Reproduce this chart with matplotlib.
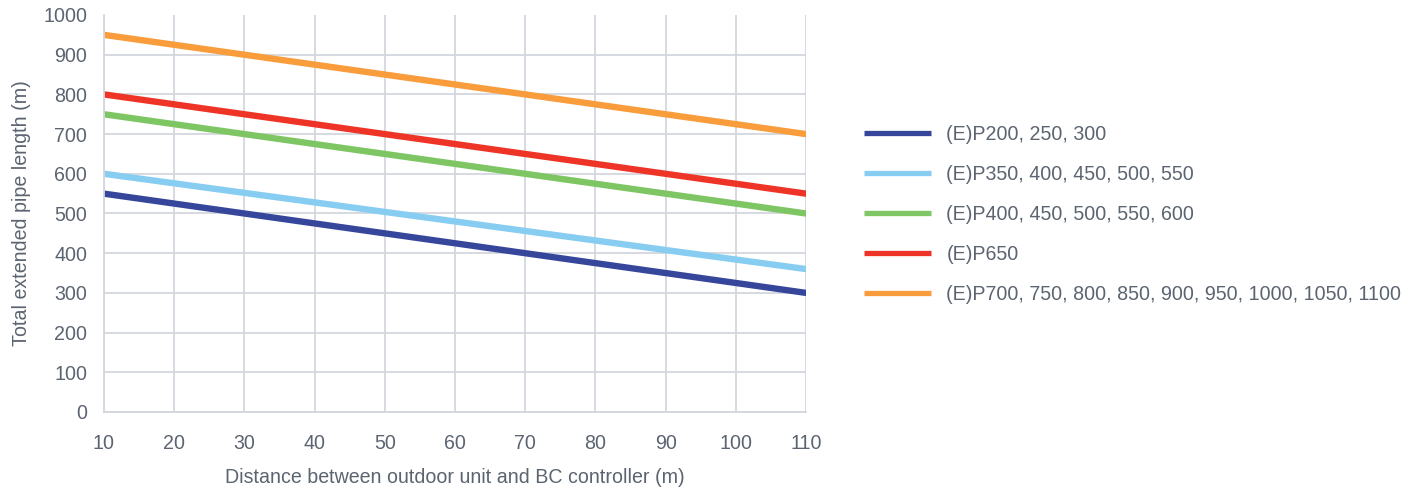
import matplotlib.pyplot as plt

plt.rcParams['font.family'] = ['Liberation Sans', 'DejaVu Sans']

# distance between outdoor unit and BC controller (m)
distance = [10, 110]

# total extended pipe length (m) per model group
p200 = [550, 300]
p350 = [600, 360]
p400 = [750, 500]
p650 = [800, 550]
p700 = [950, 700]

labels = ['(E)P200, 250, 300',
          '(E)P350, 400, 450, 500, 550',
          '(E)P400, 450, 500, 550, 600',
          '(E)P650',
          '(E)P700, 750, 800, 850, 900, 950, 1000, 1050, 1100']
colors = ['#35469b', '#87cdf1', '#7ec563', '#ee3426', '#f99c3b']

txt = '#5b6470'
grid = '#d3d7dd'
fs = 14.1

fig = plt.figure(figsize=(14.18, 4.95), dpi=100)
ax = fig.add_axes([0.0733, 0.1677, 0.4951, 0.802])

for ys, c, lab in zip([p200, p350, p400, p650, p700], colors, labels):
    ax.plot(distance, ys, color=c, lw=4.6, solid_capstyle='round', label=lab)

ax.set_xlim(10, 110)
ax.set_ylim(0, 1000)
ax.set_xticks(range(10, 111, 10))
ax.set_yticks(range(0, 1001, 100))
ax.grid(True, color=grid, lw=1.3)
ax.set_axisbelow(True)
ax.yaxis.get_gridlines()[-1].set_visible(False)

for s in ['top', 'right']:
    ax.spines[s].set_visible(False)
for s in ['left', 'bottom']:
    ax.spines[s].set_color(grid)
    ax.spines[s].set_linewidth(1.3)

ax.tick_params(length=0, labelsize=fs, colors=txt)
ax.tick_params(axis='x', pad=16)
ax.tick_params(axis='y', pad=12)

ax.set_xlabel('Distance between outdoor unit and BC controller (m)', fontsize=fs, color=txt, labelpad=11)
ax.set_ylabel('Total extended pipe length (m)', fontsize=fs, color=txt, labelpad=9)

handles, labs = ax.get_legend_handles_labels()
leg = fig.legend(handles, labs, loc='center left', bbox_to_anchor=(0.597, 0.567),
                 frameon=False, fontsize=fs, handlelength=3.4, handletextpad=0.8,
                 labelspacing=1.07)
for t in leg.get_texts():
    t.set_color(txt)
for h in leg.get_lines():
    h.set_linewidth(3.8)
    h.set_solid_capstyle('butt')

fig.savefig('out.png', dpi=100)
